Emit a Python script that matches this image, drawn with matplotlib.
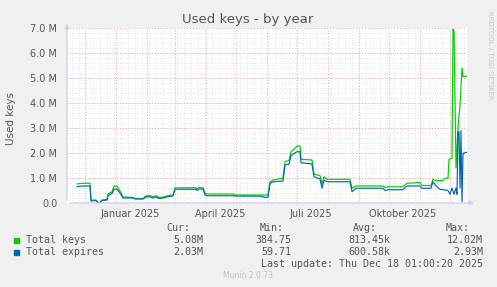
import datetime as dt
import matplotlib
matplotlib.use('Agg')
import matplotlib.pyplot as plt
import matplotlib.dates as mdates

# range of the year graph
start = dt.datetime(2024, 11, 13, 1, 0)
end = dt.datetime(2025, 12, 18, 1, 0)

# days since start / value in millions
keys_day = [10, 15, 23, 24, 29, 31, 33, 35, 40, 41, 45, 47, 50, 53, 56, 66, 68, 76, 79, 83,
            86, 89, 92, 96, 101, 106, 108, 129, 130, 132, 136, 138, 140, 166, 168, 201, 203,
            206, 210, 216, 218, 222, 224, 228, 230, 233, 234, 245, 247, 253, 255, 257, 260,
            283, 285, 289, 316, 318, 321, 336, 340, 353, 355, 364, 366, 369, 376, 378, 381,
            382, 385, 386, 387, 389, 391, 393, 395, 396, 400]
keys_val = [0.76, 0.79, 0.79, 0.12, 0.12, 0.02, 0.02, 0.12, 0.14, 0.36, 0.45, 0.68, 0.68, 0.48,
            0.25, 0.22, 0.18, 0.18, 0.28, 0.30, 0.25, 0.30, 0.22, 0.24, 0.30, 0.32, 0.61, 0.61,
            0.56, 0.62, 0.61, 0.39, 0.36, 0.36, 0.32, 0.32, 0.85, 0.92, 0.95, 0.99, 1.65, 1.70,
            2.05, 2.19, 2.28, 2.28, 1.75, 1.72, 1.15, 1.10, 0.76, 1.05, 0.95, 0.95, 0.59, 0.68,
            0.68, 0.62, 0.65, 0.65, 0.79, 0.82, 0.70, 0.70, 0.95, 0.89, 0.90, 0.99, 0.99, 1.75,
            1.79, 6.95, 6.90, 1.40, 3.00, 3.92, 5.39, 5.05, 5.08]

exp_day = [10, 15, 23, 24, 29, 31, 33, 35, 40, 41, 45, 47, 50, 53, 56, 66, 68, 76, 79, 83,
           86, 89, 92, 96, 101, 106, 108, 129, 130, 132, 136, 138, 140, 166, 168, 195, 197,
           201, 203, 206, 216, 218, 222, 224, 228, 230, 233, 234, 245, 247, 253, 255, 257,
           260, 283, 285, 289, 316, 318, 321, 336, 340, 353, 355, 364, 366, 369, 373, 381,
           383, 385, 387, 389, 390, 391, 392, 393, 394, 395, 396, 400]
exp_val = [0.65, 0.68, 0.68, 0.08, 0.10, 0.00, 0.00, 0.10, 0.12, 0.30, 0.38, 0.55, 0.55, 0.40,
           0.20, 0.20, 0.16, 0.16, 0.24, 0.25, 0.20, 0.24, 0.18, 0.20, 0.25, 0.28, 0.55, 0.55,
           0.50, 0.56, 0.56, 0.32, 0.29, 0.29, 0.28, 0.27, 0.23, 0.23, 0.78, 0.85, 0.88, 1.52,
           1.55, 1.90, 2.00, 2.05, 2.05, 1.61, 1.56, 1.05, 0.96, 0.59, 0.92, 0.85, 0.85, 0.45,
           0.59, 0.59, 0.50, 0.53, 0.53, 0.68, 0.68, 0.59, 0.59, 0.85, 0.68, 0.55, 0.50, 0.35,
           0.60, 0.35, 0.60, 0.35, 2.85, 2.85, 0.60, 2.90, 0.05, 1.99, 2.03]

month_labels = ['Januar 2025', 'April 2025', 'Juli 2025', 'Oktober 2025']
label_dates = [dt.datetime(2025, 1, 15), dt.datetime(2025, 4, 15),
               dt.datetime(2025, 7, 15), dt.datetime(2025, 10, 15)]
y_ticks = [0, 1, 2, 3, 4, 5, 6, 7]

legend_rows = [('Total keys', '#00cc00', '5.08M', '384.75', '813.45k', '12.02M'),
               ('Total expires', '#0066b3', '2.03M', '59.71', '600.58k', '2.93M')]

W, H = 497, 287
fig = plt.figure(figsize=(W / 100, H / 100), dpi=100, facecolor='#f0f0f0')
ax = fig.add_axes([67 / W, 1 - 203 / H, 400 / W, 175 / H], facecolor='white')

x0 = mdates.date2num(start)
x1 = mdates.date2num(end)
ax.set_xlim(x0, x1)
ax.set_ylim(0, 7e6)

# grid like rrdtool: gray dotted minor, red dotted major
for wk in mdates.WeekdayLocator(byweekday=mdates.MO).tick_values(start, end):
    ax.axvline(wk, color='#dadada', lw=0.6, ls=(0, (1, 2)), zorder=1)
for v in range(0, 35):
    ax.axhline(v * 0.2e6, color='#dadada', lw=0.6, ls=(0, (1, 2)), zorder=1)
for mo in mdates.MonthLocator().tick_values(start, end):
    ax.axvline(mo, color='#eaa8a8', lw=0.7, ls=(0, (1, 2)), zorder=2)
for v in y_ticks:
    ax.axhline(v * 1e6, color='#eaa8a8', lw=0.7, ls=(0, (1, 2)), zorder=2)

kx = [mdates.date2num(start + dt.timedelta(days=d)) for d in keys_day]
ex = [mdates.date2num(start + dt.timedelta(days=d)) for d in exp_day]
ax.plot(kx, [v * 1e6 for v in keys_val], color='#00cc00', lw=0.85, zorder=4)
ax.plot(ex, [v * 1e6 for v in exp_val], color='#0066b3', lw=0.85, zorder=5)

for s in ax.spines.values():
    s.set_visible(False)
# axes with arrows
ax.annotate('', xy=(1.025, 0), xytext=(0, 0), xycoords='axes fraction',
            arrowprops=dict(arrowstyle='-|>', color='#c8cff5', lw=0.9, mutation_scale=7),
            annotation_clip=False, zorder=6)
ax.annotate('', xy=(0, 1.04), xytext=(0, 0), xycoords='axes fraction',
            arrowprops=dict(arrowstyle='-|>', color='#c8cff5', lw=0.9, mutation_scale=7),
            annotation_clip=False, zorder=6)

ax.set_xticks([mdates.date2num(d) for d in label_dates])
ax.set_xticklabels(month_labels)
ax.set_yticks([v * 1e6 for v in y_ticks])
ax.set_yticklabels(['0.0'] + ['%.1f M' % v for v in y_ticks[1:]])
ax.tick_params(axis='both', length=0, labelsize=7, labelcolor='#555555')
ax.tick_params(axis='x', pad=4)
ax.tick_params(axis='y', pad=7)

fig.text(248 / W, 1 - 19 / H, 'Used keys - by year', ha='center', va='center',
         fontsize=9.5, color='#555555')
fig.text(11 / W, 1 - 119 / H, 'Used keys', rotation=90, ha='center', va='center',
         fontsize=7.5, color='#555555')
fig.text(490 / W, 1 - 55 / H, 'RRDTOOL / TOBI OETIKER', rotation=270, ha='center',
         va='center', fontsize=5, color='#c8c8c8')


def px(x, y, s, **kw):
    fig.text(x / W, 1 - y / H, s, family='DejaVu Sans Mono', fontsize=7.2,
             color='#555555', va='center', **kw)


px(190, 228, 'Cur:', ha='right')
px(284, 228, 'Min:', ha='right')
px(377, 228, 'Avg:', ha='right')
px(470, 228, 'Max:', ha='right')
for i, (name, col, cur, mn, avg, mx) in enumerate(legend_rows):
    y = 240 + i * 12
    fig.patches.append(plt.Rectangle((14 / W, 1 - (y + 2.5) / H), 5 / W, 5 / H,
                                     transform=fig.transFigure, color=col))
    px(26, y, name, ha='left')
    px(203, y, cur, ha='right')
    px(291, y, mn, ha='right')
    px(390, y, avg, ha='right')
    px(483, y, mx, ha='right')
px(483, 264, 'Last update: Thu Dec 18 01:00:20 2025', ha='right')
fig.text(248 / W, 1 - 276 / H, 'Munin 2.0.73', ha='center', va='center',
         fontsize=5.5, color='#c0c0c0')

fig.savefig('out.png', dpi=100, facecolor=fig.get_facecolor())
